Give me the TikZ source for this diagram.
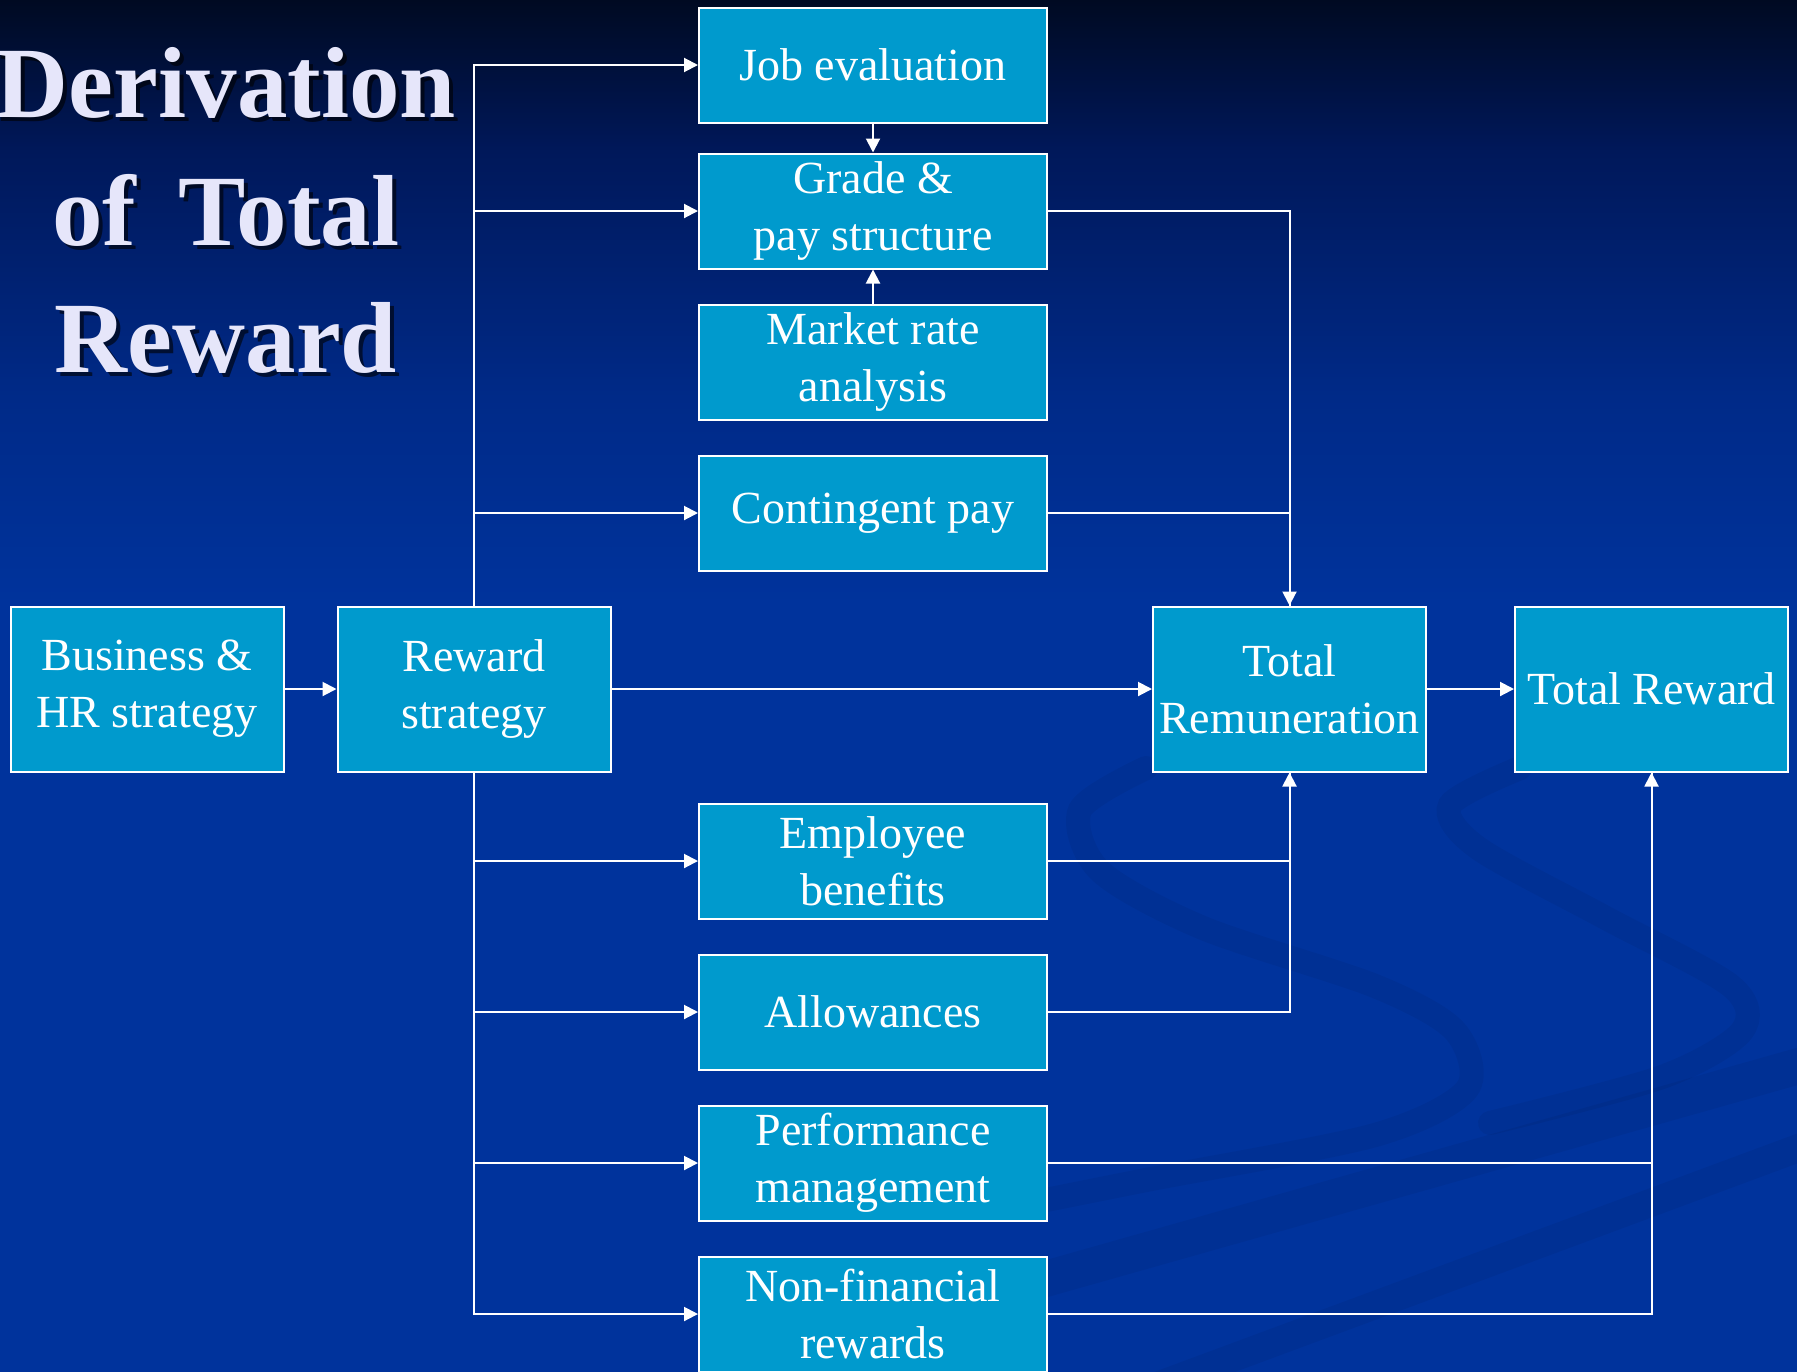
\documentclass[tikz,border=0pt]{standalone}
\usepackage{fontspec}
\setmainfont{Liberation Serif}
\usepackage{xcolor}
\usepackage{tikz}
\usetikzlibrary{arrows.meta,positioning}

\definecolor{boxfill}{HTML}{009ACD}
\definecolor{bgtop}{HTML}{000A22}
\definecolor{bgup}{HTML}{00185A}
\definecolor{bgmid}{HTML}{002A88}
\definecolor{bgbot}{HTML}{00339C}
\definecolor{titlecol}{HTML}{E6E6FA}

% the path spans 25bp..75bp of the shading
\pgfdeclareverticalshading{slidebg}{100bp}{color(0bp)=(bgbot); color(53bp)=(bgbot); color(60.5bp)=(bgmid); color(69.5bp)=(bgup); color(75bp)=(bgtop); color(100bp)=(bgtop)}

\begin{document}
\begin{tikzpicture}[
    x=0.5pt, y=0.5pt,
    box/.style={rectangle, draw=white, line width=1pt, fill=boxfill, text=white, align=center, inner sep=0pt, font=\fontsize{23pt}{28.5pt}\selectfont},
    midbox/.style={box, minimum width=174pt, minimum height=57.5pt},
    bigbox/.style={box, minimum width=136.5pt, minimum height=82.5pt},
    wire/.style={draw=white, line width=1pt},
    arrow/.style={wire, -{Triangle[length=7pt,width=7pt]}},
    titletext/.style={text=titlecol, font=\fontsize{50.5pt}{64pt}\selectfont\bfseries, anchor=base, inner sep=0pt},
    swirl/.style={draw=black, opacity=0.05, line width=12pt, line cap=round}
]
% slide background
\useasboundingbox (0,0) rectangle (1797,-1371);
\shade[shading=slidebg] (0,0) rectangle (1797,-1371);
\draw[swirl] plot[smooth] coordinates {(1146,-768) (1080,-810) (1100,-871) (1203,-928) (1375,-986) (1455,-1031) (1467,-1089) (1375,-1135) (1146,-1180) (1031,-1203)};
\draw[swirl] plot[smooth] coordinates {(1520,-768) (1450,-805) (1478,-848) (1604,-917) (1731,-986) (1742,-1031) (1662,-1077) (1490,-1123)};
\draw[swirl, line width=18pt] (1031,-1283) -- (1820,-1060);
\draw[swirl, line width=14pt] (1146,-1390) -- (1820,-1140);

% title
\foreach \txt/\yy [count=\i] in {Derivation/117, of\, Total/245, Reward/372} {
  \node[titletext, text=black, opacity=0.6] (titleshadow\i) at (230,-\yy-4) {\txt};
  \node[titletext] (title\i) at (226,-\yy) {\txt};
}

% main row
\node[bigbox] (business) at (147,-689) {Business \&\\HR strategy};
\node[bigbox, right=26pt of business] (reward) {Reward\\strategy};
\node[bigbox, right=270.25pt of reward] (totrem) {Total\\Remuneration};
\node[bigbox, right=43.5pt of totrem] (totrew) {Total Reward};

% reward elements
\node[midbox, above=17pt of reward, xshift=199.5pt] (cont) {Contingent pay};
\node[midbox, above=17pt of cont] (market) {Market rate\\analysis};
\node[midbox, above=17pt of market] (grade) {Grade \&\\pay structure};
\node[midbox, above=14.5pt of grade] (job) {Job evaluation};
\node[midbox, below=15pt of reward, xshift=199.5pt] (benefits) {Employee\\benefits};
\node[midbox, below=17pt of benefits] (allow) {Allowances};
\node[midbox, below=17pt of allow] (perf) {Performance\\management};
\node[midbox, below=17pt of perf] (nonfin) {Non-financial\\rewards};

% connectors
\foreach \n in {job,grade,cont} \draw[arrow] (reward.north) |- (\n);
\foreach \n in {benefits,allow,perf,nonfin} \draw[arrow] (reward.south) |- (\n);
\draw[arrow] (job) -- (grade);
\draw[arrow] (market) -- (grade);
\draw[arrow] (business) -- (reward);
\draw[arrow] (reward) -- (totrem);
\draw[arrow] (totrem) -- (totrew);
\draw[arrow] (grade) -| (totrem);
\draw[wire] (cont) -| (totrem);
\draw[arrow] (benefits) -| (totrem);
\draw[wire] (allow) -| (totrem);
\draw[arrow] (perf) -| (totrew);
\draw[wire] (nonfin) -| (totrew);
\end{tikzpicture}
\end{document}
